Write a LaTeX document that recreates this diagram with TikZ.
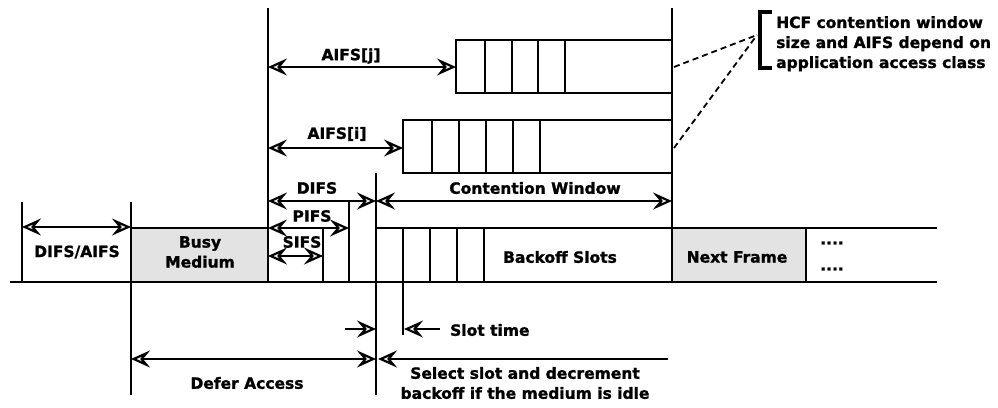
\documentclass[tikz,border=0pt]{standalone}
\usepackage{fontspec}
\setmainfont{DejaVu Sans}[BoldFeatures={FakeBold=1.3}]
\usetikzlibrary{arrows.meta}
\begin{document}
\begin{tikzpicture}[x=1pt,y=-1pt,
  lbl/.style={font=\bfseries\fontsize{15.5}{20}\selectfont, inner sep=0pt, align=center},
  heavy/.style={line width=2.6pt},
  vline/.style={line width=1.5pt},
  medium/.style={fill=black!11},
  dimarrow/.style={line width=1.6pt, arrows={Stealth[open,length=19pt,width=17pt,inset=7pt,line width=2.2pt]-Stealth[open,length=19pt,width=17pt,inset=7pt,line width=2.2pt]}},
  onearrow/.style={line width=1.6pt, arrows={-Stealth[open,length=19pt,width=17pt,inset=7pt,line width=2.2pt]}},
  guide/.style={line width=1.8pt, dash pattern=on 6pt off 4pt}]
\useasboundingbox (0,0) rectangle (998,407);

% ---- coordinates ----
\coordinate (a0t) at (22,202);   \coordinate (a0b) at (22,282);
\coordinate (a1t) at (131,202);  \coordinate (a1b) at (131,395);
\coordinate (a2t) at (268,8);    \coordinate (a2b) at (268,282);
\coordinate (sft) at (323,228);  \coordinate (sfb) at (323,282);
\coordinate (pft) at (349,202);  \coordinate (pfb) at (349,282);
\coordinate (dft) at (376,173);  \coordinate (dfb) at (376,395);
\coordinate (stt) at (403,282);  \coordinate (stb) at (403,335);
\coordinate (cwt) at (672,8);    \coordinate (cwb) at (672,228);

% ---- vertical time markers ----
\draw[vline] (a0t) -- (a0b);
\draw[vline] (a1t) -- (a1b);
\draw[vline] (a2t) -- (a2b);
\draw[vline] (sft) -- (sfb);
\draw[vline] (pft) -- (pfb);
\draw[vline] (dft) -- (dfb);
\draw[vline] (stt) -- (stb);
\draw[vline] (cwt) -- (cwb);

% ---- medium line ----
\draw[heavy, medium] (131,228) rectangle (268,282);
\draw[heavy] (376,228) rectangle (672,282);
\foreach \x in {403,430,457,484} \draw[heavy] (\x,228) -- (\x,282);
\draw[heavy, medium] (672,228) rectangle (806,282);
\draw[heavy] (806,228) -- (937,228);
\draw[heavy] (10,282) -- (937,282);

% ---- upper contention windows ----
\draw[heavy] (456,40) rectangle (672,93);
\foreach \x in {485,512,538,565} \draw[heavy] (\x,40) -- (\x,93);
\draw[heavy] (403,120) rectangle (672,173);
\foreach \x in {432,459,486,513,540} \draw[heavy] (\x,120) -- (\x,173);

% ---- dimension arrows ----
\coordinate (da1) at (22,227);  \coordinate (da2) at (131,227);
\coordinate (di1) at (268,201); \coordinate (di2) at (376,201);
\coordinate (pi1) at (268,228); \coordinate (pi2) at (349,228);
\coordinate (si1) at (268,256); \coordinate (si2) at (323,256);
\coordinate (cw1) at (376,201); \coordinate (cw2) at (672,201);
\coordinate (aj1) at (268,67);  \coordinate (aj2) at (456,67);
\coordinate (ai1) at (268,148); \coordinate (ai2) at (403,148);
\coordinate (sm1) at (345,329); \coordinate (sm2) at (376,329);
\coordinate (sl1) at (440,329); \coordinate (sl2) at (404,329);
\coordinate (de1) at (131,359); \coordinate (de2) at (376,359);
\coordinate (se1) at (668,359); \coordinate (se2) at (378,359);

\draw[dimarrow] (da1) -- (da2);
\draw[dimarrow] (di1) -- (di2);
\draw[dimarrow] (pi1) -- (pi2);
\draw[dimarrow] (si1) -- (si2);
\draw[dimarrow] (cw1) -- (cw2);
\draw[dimarrow] (aj1) -- (aj2);
\draw[dimarrow] (ai1) -- (ai2);
\draw[onearrow] (sm1) -- (sm2);
\draw[onearrow] (sl1) -- (sl2);
\draw[dimarrow] (de1) -- (de2);
\draw[onearrow] (se1) -- (se2);

% ---- labels ----
\node[lbl] (tdifsaifs) at (77,252) {DIFS/AIFS};
\node[lbl] (tbusy) at (200,252) {Busy\\Medium};
\node[lbl] (tdifs) at (317,188) {DIFS};
\node[lbl] (tpifs) at (312,216) {PIFS};
\node[lbl] (tsifs) at (302,242) {SIFS};
\node[lbl] (tcw) at (535,188) {Contention Window};
\node[lbl] (taj) at (351,56) {AIFS[j]};
\node[lbl] (tai) at (337,134) {AIFS[i]};
\node[lbl] (tback) at (560,257) {Backoff Slots};
\node[lbl] (tnext) at (737,257) {Next Frame};
\node[lbl] (tdots1) at (832,243) {....};
\node[lbl] (tdots2) at (832,269) {....};
\node[lbl, anchor=west] (tslot) at (450,330) {Slot time};
\node[lbl] (tdefer) at (247,383) {Defer Access};
\node[lbl] (tselect) at (525,383) {Select slot and decrement\\backoff if the medium is idle};

% ---- annotation ----
\coordinate (br) at (757,35);
\draw[guide] (674,67) -- (br);
\draw[guide] (674,148) -- (br);
\draw[line width=4pt] (772,12) -- (760,12) -- (760,68) -- (772,68);
\node[lbl, anchor=north west, align=left] (thcf) at (776,16) {HCF contention window\\size and AIFS depend on\\application access class};
\end{tikzpicture}
\end{document}
